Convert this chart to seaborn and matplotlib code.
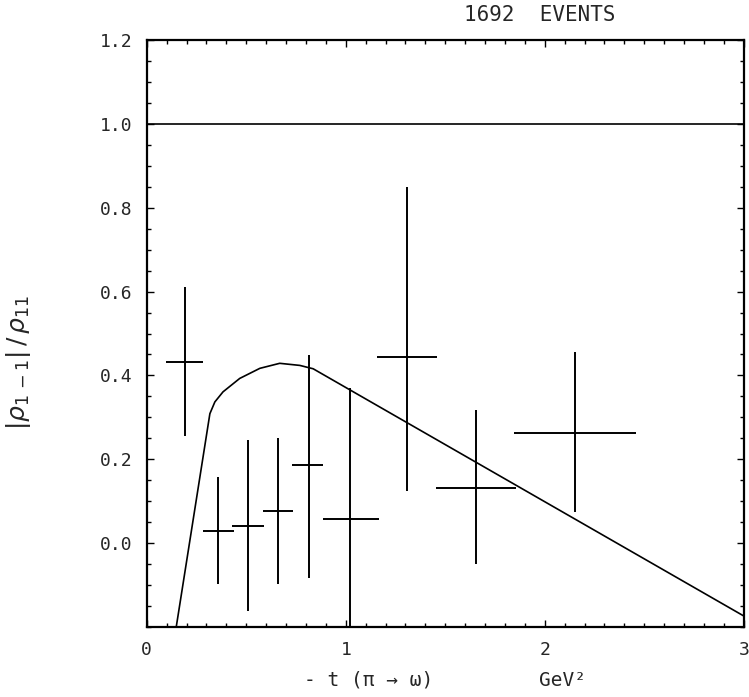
import matplotlib
matplotlib.use("Agg")
import matplotlib.pyplot as plt
from matplotlib.ticker import MultipleLocator, FixedLocator, FixedFormatter
import seaborn as sns
import pandas as pd

# Measured density-matrix ratio in bins of -t
t_center = [0.19, 0.36, 0.51, 0.66, 0.815, 1.02, 1.31, 1.655, 2.15]
t_low = [0.095, 0.283, 0.43, 0.585, 0.732, 0.883, 1.157, 1.452, 1.846]
t_high = [0.283, 0.437, 0.588, 0.735, 0.886, 1.166, 1.459, 1.853, 2.456]
ratio = [0.432, 0.030, 0.042, 0.076, 0.186, 0.058, 0.444, 0.132, 0.264]
ratio_low = [0.256, -0.098, -0.160, -0.098, -0.082, -0.25, 0.125, -0.050, 0.075]
ratio_high = [0.611, 0.158, 0.246, 0.251, 0.449, 0.369, 0.85, 0.318, 0.455]

# Model prediction
model_t = [0.146, 0.317, 0.342, 0.383, 0.467, 0.568, 0.668, 0.769, 0.836, 3.0]
model_ratio = [-0.205, 0.309, 0.337, 0.361, 0.393, 0.417, 0.429, 0.424, 0.416, -0.173]

y_ticks = [0.0, 0.2, 0.4, 0.6, 0.8, 1.0, 1.2]
y_tick_labels = ["0.0", "0.2", "0.4", "0.6", "0.8", "1.0", "1.2"]
x_ticks = [0, 1, 2, 3]
x_tick_labels = ["0", "1", "2", "3"]

sns.set_theme(style="ticks")
plt.rcParams["font.family"] = ["DejaVu Sans Mono", "DejaVu Sans"]
plt.rcParams["mathtext.fontset"] = "dejavusans"

fig = plt.figure(figsize=(7.49, 6.97), dpi=100)
ax = fig.add_axes([0.196, 0.100, 0.797, 0.843])

df = pd.DataFrame({"t": model_t, "r": model_ratio})
sns.lineplot(data=df, x="t", y="r", sort=False, color="black", lw=1.2, ax=ax)

ax.axhline(1.0, color="black", lw=1.2)

xerr = [[c - lo for c, lo in zip(t_center, t_low)],
        [hi - c for c, hi in zip(t_center, t_high)]]
yerr = [[r - lo for r, lo in zip(ratio, ratio_low)],
        [hi - r for r, hi in zip(ratio, ratio_high)]]
ax.errorbar(t_center, ratio, xerr=xerr, yerr=yerr, fmt="none",
            ecolor="black", elinewidth=1.4, capsize=0)

ax.set_xlim(0, 3)
ax.set_ylim(-0.2, 1.2)

ax.yaxis.set_major_locator(FixedLocator(y_ticks))
ax.yaxis.set_major_formatter(FixedFormatter(y_tick_labels))
ax.yaxis.set_minor_locator(MultipleLocator(0.05))
ax.xaxis.set_major_locator(FixedLocator(x_ticks))
ax.xaxis.set_major_formatter(FixedFormatter(x_tick_labels))
ax.xaxis.set_minor_locator(MultipleLocator(0.1))

ax.tick_params(which="both", direction="in", top=True, right=True,
               color="black", width=1.0)
ax.tick_params(which="major", length=5, labelsize=13, pad=10)
ax.tick_params(which="minor", length=3)

for sp in ax.spines.values():
    sp.set_linewidth(1.6)
    sp.set_color("black")

ax.set_xlabel("- t (\u03c0 \u2192 \u03c9)         GeV\u00b2", fontsize=14, labelpad=8)
ax.set_ylabel(r"$|\rho_{1\,-1}|\,/\,\rho_{11}$", fontsize=18)
ax.yaxis.set_label_coords(-0.19, 0.45)

fig.text(0.72, 0.978, "1692  EVENTS", ha="center", va="center", fontsize=15)

fig.savefig("out.png", dpi=100, facecolor="white")
